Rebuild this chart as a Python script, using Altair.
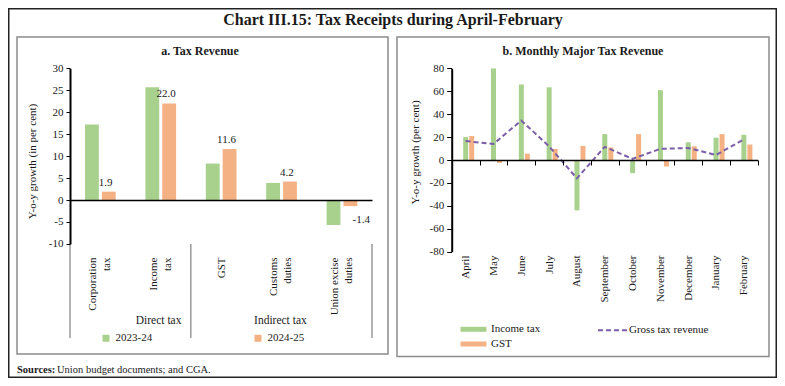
import altair as alt
import pandas as pd

# ---------------- data ----------------
# Panel a: Tax Revenue (y-o-y growth, per cent)
tax_categories = ["Corporation tax", "Income tax", "GST", "Customs duties", "Union excise duties"]
tax_label_lines = [["Corporation", "tax"], ["Income", "tax"], ["GST"], ["Customs", "duties"], ["Union excise", "duties"]]
years = ["2023-24", "2024-25"]
growth_2023_24 = [17.2, 25.7, 8.3, 3.9, -5.7]
growth_2024_25 = [1.9, 22.0, 11.6, 4.2, -1.4]
tax_groups = ["Direct tax", "Indirect tax"]
y_ticks_a = [-10, -5, 0, 5, 10, 15, 20, 25, 30]

# Panel b: Monthly Major Tax Revenue (y-o-y growth, per cent)
months = ["April", "May", "June", "July", "August", "September", "October",
          "November", "December", "January", "February"]
bar_series = ["Income tax", "GST"]
income_tax = [20.0, 80.0, 66.0, 63.5, -44.0, 22.6, -11.5, 61.0, 15.5, 19.5, 22.0]
gst = [21.0, -2.5, 5.5, 9.7, 12.3, 11.0, 22.6, -5.6, 12.0, 22.6, 13.5]
gross_tax_revenue = [16.5, 14.0, 34.5, 12.0, -16.0, 11.5, 1.0, 9.7, 10.5, 4.4, 18.0]
line_series = "Gross tax revenue"
y_ticks_b = [-80, -60, -40, -20, 0, 20, 40, 60, 80]

# ---------------- styling ----------------
W, H = 769, 370
FONT = "Liberation Serif"
TXT = "#1a1a1a"
GREEN, ORANGE, PURPLE = "#A9D18E", "#F4B183", "#7B5EA7"

# panel a geometry (pixels in chart space)
XA_RANGE = [62, 364]
YA_RANGE = [235.9, 60.3]
YA_DOM = [-10, 30]
ya_zero = YA_RANGE[0] + (0 - YA_DOM[0]) / (YA_DOM[1] - YA_DOM[0]) * (YA_RANGE[1] - YA_RANGE[0])

# panel b geometry
XB_RANGE = [443.7, 749.7]
YB_RANGE = [243.6, 60.4]
YB_DOM = [-80, 80]
yb_zero = YB_RANGE[0] + (0 - YB_DOM[0]) / (YB_DOM[1] - YB_DOM[0]) * (YB_RANGE[1] - YB_RANGE[0])

# ---------------- tables ----------------
dfa = pd.DataFrame(
    [{"cat": c, "year": years[0], "val": v} for c, v in zip(tax_categories, growth_2023_24)]
    + [{"cat": c, "year": years[1], "val": v} for c, v in zip(tax_categories, growth_2024_25)]
)
dfa["txt"] = dfa["val"].map(lambda v: f"{v:.1f}")
dfa_lab = dfa[dfa["year"] == years[1]]
dfa_pos = dfa_lab[dfa_lab["val"] >= 0]
dfa_neg = dfa_lab[dfa_lab["val"] < 0]

dfb = pd.DataFrame(
    [{"month": m, "series": bar_series[0], "val": v} for m, v in zip(months, income_tax)]
    + [{"month": m, "series": bar_series[1], "val": v} for m, v in zip(months, gst)]
)
dfl = pd.DataFrame({"month": months, "val": gross_tax_revenue, "series": line_series})

one = pd.DataFrame({"k": [0]})

# ---------------- scales ----------------
sx_a = alt.Scale(domain=tax_categories, range=XA_RANGE, paddingInner=0, paddingOuter=0)
sy_a = alt.Scale(domain=YA_DOM, range=YA_RANGE, nice=False, zero=False)
sxo_a = alt.Scale(domain=years, range=[15, 45.7], paddingInner=0.18, paddingOuter=0)

sx_b = alt.Scale(domain=months, range=XB_RANGE, paddingInner=0, paddingOuter=0)
sy_b = alt.Scale(domain=YB_DOM, range=YB_RANGE, nice=False, zero=False)
sxo_b = alt.Scale(domain=bar_series, range=[11.5, 22.5], paddingInner=1 / 6, paddingOuter=0)

label_expr = " : ".join(
    f"datum.value == '{c}' ? [" + ",".join(f"'{p}'" for p in lines) + "]"
    for c, lines in zip(tax_categories, tax_label_lines)
) + " : datum.label"
single_line = [c for c, lines in zip(tax_categories, tax_label_lines) if len(lines) == 1]
single_test = " || ".join(f"datum.value == '{c}'" for c in single_line)
plain_num = "'' + datum.value"

# ---------------- panel a ----------------
bars_a = alt.Chart(dfa).mark_bar().encode(
    x=alt.X("cat:N", scale=sx_a, sort=tax_categories, axis=alt.Axis(
        orient="bottom", offset=ya_zero - H, title=None, grid=False,
        domain=True, domainColor="black", domainWidth=1.5,
        ticks=False, tickSize=0, labelPadding=57,
        labelAngle=270, labelAlign="right", labelBaseline="middle",
        labelLineHeight=14,
        labelOffset={"condition": {"test": single_test, "value": 1}, "value": -7},
        labelExpr=label_expr, labelOverlap=False,
        labelFont=FONT, labelFontSize=11, labelColor=TXT, zindex=1)),
    xOffset=alt.XOffset("year:N", scale=sxo_a),
    y=alt.Y("val:Q", scale=sy_a, axis=alt.Axis(
        orient="left", offset=-XA_RANGE[0], values=y_ticks_a, grid=False, labelExpr=plain_num,
        domainColor="black", domainWidth=2, tickColor="black", tickSize=4,
        labelPadding=3, labelFont=FONT, labelFontSize=11, labelColor=TXT,
        title="Y-o-y growth (in per cent)", titleFont=FONT, titleFontSize=11,
        titleFontWeight="normal", titleColor=TXT, titleAngle=270,
        titleAlign="center", titleBaseline="middle", titleX=24 - XA_RANGE[0], titleY=153, zindex=1)),
    y2=alt.datum(0),
    color=alt.Color("year:N", scale=alt.Scale(domain=years, range=[GREEN, ORANGE]), legend=alt.Legend(
        orient="none", legendX=92.5, legendY=324.5, direction="horizontal", title=None,
        symbolType="square", symbolSize=49, symbolStrokeWidth=0, labelOffset=4,
        columnPadding=100, padding=0, labelFont=FONT, labelFontSize=11, labelColor=TXT)),
)

lab_pos_a = alt.Chart(dfa_pos).mark_text(baseline="bottom", dy=-4, dx=-10, font=FONT, fontSize=11, color=TXT).encode(
    x=alt.X("cat:N", scale=sx_a, axis=None),
    xOffset=alt.XOffset("year:N", scale=sxo_a),
    y=alt.Y("val:Q", scale=sy_a, axis=None),
    text=alt.Text("txt:N"),
)
lab_neg_a = alt.Chart(dfa_neg).mark_text(baseline="top", dy=8, dx=4, font=FONT, fontSize=11, color=TXT).encode(
    x=alt.X("cat:N", scale=sx_a, axis=None),
    xOffset=alt.XOffset("year:N", scale=sxo_a),
    y=alt.Y("val:Q", scale=sy_a, axis=None),
    text=alt.Text("txt:N"),
)

sep_left = alt.Chart(pd.DataFrame({"cat": [tax_categories[0], tax_categories[2]]})).mark_rule(
    color="#9a9a9a", strokeWidth=1.5).encode(
    x=alt.X("cat:N", scale=sx_a, axis=None, bandPosition=0),
    y=alt.value(YA_RANGE[0]), y2=alt.value(330))
sep_right = alt.Chart(pd.DataFrame({"cat": [tax_categories[-1]]})).mark_rule(
    color="#9a9a9a", strokeWidth=1.5).encode(
    x=alt.X("cat:N", scale=sx_a, axis=None, bandPosition=1),
    y=alt.value(YA_RANGE[0]), y2=alt.value(330))

grp_direct = alt.Chart(pd.DataFrame({"cat": [tax_categories[1]], "g": [tax_groups[0]]})).mark_text(
    font=FONT, fontSize=11.5, color=TXT, baseline="middle", dx=-2).encode(
    x=alt.X("cat:N", scale=sx_a, axis=None, bandPosition=0),
    y=alt.value(312.5), text="g:N")
grp_indirect = alt.Chart(pd.DataFrame({"cat": [tax_categories[3]], "g": [tax_groups[1]]})).mark_text(
    font=FONT, fontSize=11.5, color=TXT, baseline="middle", dx=-1).encode(
    x=alt.X("cat:N", scale=sx_a, axis=None, bandPosition=0.5),
    y=alt.value(313), text="g:N")

# ---------------- panel b ----------------
bars_b = alt.Chart(dfb).mark_bar().encode(
    x=alt.X("month:N", scale=sx_b, sort=months, axis=alt.Axis(
        orient="bottom", offset=yb_zero - H, title=None, grid=False,
        domain=True, domainColor="black", domainWidth=1.5,
        ticks=True, tickBand="extent", tickSize=5, tickColor="black",
        labelPadding=90, labelAngle=270, labelAlign="right", labelBaseline="middle",
        labelOverlap=False, labelFont=FONT, labelFontSize=11, labelColor=TXT, zindex=1)),
    xOffset=alt.XOffset("series:N", scale=sxo_b),
    y=alt.Y("val:Q", scale=sy_b, axis=alt.Axis(
        orient="left", offset=-XB_RANGE[0], values=y_ticks_b, grid=False, labelExpr=plain_num,
        domainColor="black", domainWidth=2, tickColor="black", tickSize=5,
        labelPadding=3, labelFont=FONT, labelFontSize=11, labelColor=TXT,
        title="Y-o-y growth (per cent)", titleFont=FONT, titleFontSize=11,
        titleFontWeight="normal", titleColor=TXT, titleAngle=270,
        titleAlign="center", titleBaseline="middle", titleX=407 - XB_RANGE[0], titleY=144, zindex=1)),
    y2=alt.datum(0),
    fill=alt.Fill("series:N", scale=alt.Scale(domain=bar_series, range=[GREEN, ORANGE]), legend=alt.Legend(
        orient="none", legendX=460, legendY=315.8, direction="vertical", title=None,
        symbolType="M-2.6,-0.5L2.6,-0.5L2.6,0.5L-2.6,0.5Z", symbolSize=100, symbolStrokeWidth=0,
        labelOffset=12, rowPadding=2.7, padding=0,
        labelFont=FONT, labelFontSize=11, labelColor=TXT)),
)

line_b = alt.Chart(dfl).mark_line(color=PURPLE, strokeWidth=2).encode(
    x=alt.X("month:N", scale=sx_b, sort=months, axis=None),
    y=alt.Y("val:Q", scale=sy_b, axis=None),
    strokeDash=alt.StrokeDash("series:N", scale=alt.Scale(domain=[line_series], range=[[5, 3]]), legend=alt.Legend(
        orient="none", legendX=589, legendY=306.3, title=None, symbolType="stroke",
        symbolSize=900, symbolStrokeWidth=2, symbolStrokeColor=PURPLE, labelOffset=0, padding=0,
        labelFont=FONT, labelFontSize=11, labelColor=TXT)),
)

# ---------------- frame & texts ----------------
def box(x1, x2, y1, y2, color, width):
    return alt.Chart(one).mark_rect(fill="transparent", stroke=color, strokeWidth=width).encode(
        x=alt.value(x1), x2=alt.value(x2), y=alt.value(y1), y2=alt.value(y2))

def label(txt, x, y, size, weight="normal", align="center"):
    return alt.Chart(one).mark_text(text=txt, font=FONT, fontSize=size, fontWeight=weight,
                                    color=TXT, align=align, baseline="middle").encode(
        x=alt.value(x), y=alt.value(y))

frame = box(0.75, 768.25, 0.75, 369.25, "#222222", 1.5)
frame_a = box(9, 380, 29, 346, "#8c8c8c", 1.5)
frame_b = box(389, 761, 29, 348.5, "#8c8c8c", 1.5)

title_main = label("Chart III.15: Tax Receipts during April-February", 385, 12, 16, "bold")
title_a = label("a. Tax Revenue", 192, 43, 12, "bold")
title_b = label("b. Monthly Major Tax Revenue", 575, 43, 12, "bold")
src_bold = label("Sources:", 9, 361.5, 10.5, "bold", "left")
src_text = label("Union budget documents; and CGA.", 49, 361.5, 10.5, "normal", "left")

chart = alt.layer(
    frame, frame_a, frame_b, title_main, title_a, title_b, src_bold, src_text,
    sep_left, sep_right, grp_direct, grp_indirect,
    bars_a, lab_pos_a, lab_neg_a,
    bars_b, line_b,
).resolve_scale(
    x="independent", y="independent", xOffset="independent",
).properties(
    width=W, height=H, padding=0,
    autosize=alt.AutoSizeParams(type="none"),
    background="white",
).configure_view(stroke=None)

chart.save("out.html", embed_options={"renderer": "svg", "actions": False})
